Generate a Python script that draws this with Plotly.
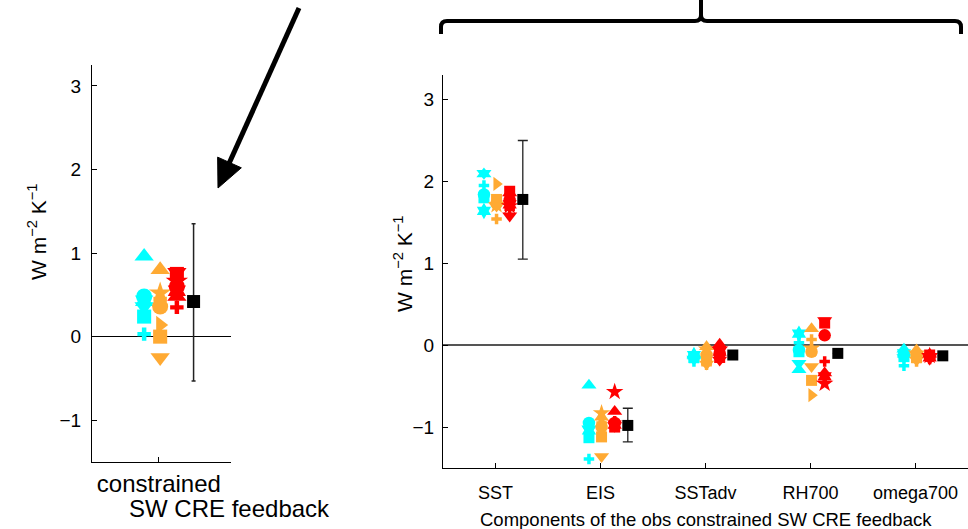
import math
import plotly.graph_objects as go

# ---------------- data ----------------
PANELS = ["constrained", "SST", "EIS", "SSTadv", "RH700", "omega700"]
RIGHT_CATS = ["SST", "EIS", "SSTadv", "RH700", "omega700"]
Y_TICKS = [-1, 0, 1, 2, 3]
Y_TICKTEXT = ["\u22121", "0", "1", "2", "3"]

# values: [constrained, SST, EIS, SSTadv, RH700, omega700]
# cyan group
C_TRIUP = [0.96, 2.09, -0.49, -0.12, -0.30, -0.05]
C_CIRCLE = [0.48, 1.84, -0.95, -0.14, -0.06, -0.12]
C_TRIDN = [0.36, 2.10, -1.02, -0.17, -0.22, -0.15]
C_SQUARE = [0.24, 1.80, -1.13, -0.15, -0.08, -0.14]
C_CROSS = [0.03, 1.95, -1.39, -0.20, 0.03, -0.25]
C_HEXA = [0.43, 1.64, -1.04, -0.12, 0.14, -0.10]
# orange group
O_TRIUP = [0.80, 1.76, -0.88, -0.02, 0.20, -0.06]
O_STAR = [0.52, 1.71, -0.83, -0.05, -0.04, -0.10]
O_CIRCLE = [0.36, 1.73, -1.00, -0.12, -0.08, -0.12]
O_TRIRT = [0.14, 1.97, -0.95, -0.15, -0.61, -0.13]
O_SQUARE = [0.00, 1.78, -1.12, -0.18, -0.43, -0.15]
O_TRIDN = [-0.25, 1.70, -1.36, -0.23, -0.26, -0.18]
O_CROSS = [0.45, 1.54, -0.95, -0.24, 0.07, -0.20]
# red group
R_TRIDN = [0.77, 1.58, -0.98, -0.18, 0.30, -0.15]
R_SQUARE = [0.75, 1.88, -1.00, -0.15, 0.27, -0.12]
R_CIRCLE = [0.60, 1.77, -0.95, -0.10, 0.12, -0.14]
R_TRIUP = [0.48, 1.86, -0.81, 0.01, -0.34, -0.11]
R_CROSS = [0.35, 1.66, -0.93, -0.12, -0.20, -0.17]
R_STAR = [0.66, 1.70, -0.57, -0.05, -0.47, -0.13]
R_HEXA = [0.55, 1.72, -0.97, -0.08, -0.38, -0.15]
# observations (black) with error bar bounds
OBS = [0.42, 1.78, -0.98, -0.12, -0.10, -0.13]
OBS_HI = [1.35, 2.50, -0.77, -0.12, -0.10, -0.13]
OBS_LO = [-0.53, 1.05, -1.18, -0.12, -0.10, -0.13]

CYAN = "#00FFFF"
ORANGE = "#FFAA33"
RED = "#FF0000"

GROUPS = [
    (CYAN, -0.11, [("triangle-up", C_TRIUP), ("circle", C_CIRCLE), ("triangle-down", C_TRIDN),
                   ("square", C_SQUARE), ("cross", C_CROSS), ("hexagram", C_HEXA)]),
    (ORANGE, 0.01, [("triangle-up", O_TRIUP), ("star", O_STAR), ("circle", O_CIRCLE),
                    ("triangle-right", O_TRIRT), ("square", O_SQUARE), ("triangle-down", O_TRIDN),
                    ("cross", O_CROSS)]),
    (RED, 0.135, [("triangle-down", R_TRIDN), ("square", R_SQUARE), ("circle", R_CIRCLE),
                  ("triangle-up", R_TRIUP), ("cross", R_CROSS), ("star", R_STAR), ("hexagram", R_HEXA)]),
]
OBS_OFFSET = 0.26

# ---------------- layout helpers ----------------
W, H = 968, 529
FONT = "Liberation Sans, Arial, Helvetica, sans-serif"


def px(x):
    return x / W


def py(y):
    return 1 - y / H


SIZE_SCALE = {"circle": 1.0, "triangle-up": 1.05, "triangle-down": 1.05, "triangle-right": 1.0,
              "square": 0.88, "cross": 0.7, "hexagram": 1.0, "star": 1.05}

fig = go.Figure()

# left panel (x, y) and right panel (x2, y2)
for color, off, models in GROUPS:
    for sym, vals in models:
        fig.add_trace(go.Scatter(
            x=[1 + off], y=vals[:1], mode="markers", xaxis="x", yaxis="y",
            marker=dict(symbol=sym, color=color, size=16 * SIZE_SCALE[sym], line=dict(width=0)),
            showlegend=False, hoverinfo="y"))
        fig.add_trace(go.Scatter(
            x=[i + 1 + off for i in range(len(RIGHT_CATS))], y=vals[1:], mode="markers",
            xaxis="x2", yaxis="y2",
            marker=dict(symbol=sym, color=color, size=12.5 * SIZE_SCALE[sym], line=dict(width=0)),
            showlegend=False, hoverinfo="y"))

err_plus = [h - v for h, v in zip(OBS_HI, OBS)]
err_minus = [v - l for v, l in zip(OBS, OBS_LO)]

fig.add_trace(go.Scatter(
    x=[1 + OBS_OFFSET], y=OBS[:1], mode="markers", xaxis="x", yaxis="y",
    marker=dict(symbol="square", color="black", size=13),
    error_y=dict(type="data", array=err_plus[:1], arrayminus=err_minus[:1],
                 color="#222222", thickness=1.5, width=2),
    showlegend=False))
fig.add_trace(go.Scatter(
    x=[i + 1 + OBS_OFFSET for i in range(len(RIGHT_CATS))], y=OBS[1:], mode="markers",
    xaxis="x2", yaxis="y2",
    marker=dict(symbol="square", color="black", size=11),
    error_y=dict(type="data", array=err_plus[1:], arrayminus=err_minus[1:],
                 color="#222222", thickness=1.3, width=5),
    showlegend=False))

axis_common = dict(showline=True, linecolor="black", linewidth=1, showgrid=False,
                   ticks="inside", ticklen=5, tickcolor="black", mirror=False)
yfont = dict(family=FONT, size=19, color="black")

fig.update_layout(
    width=W, height=H,
    margin=dict(l=0, r=0, t=0, b=0),
    paper_bgcolor="white", plot_bgcolor="white",
    font=dict(family=FONT, color="black"),
    xaxis=dict(domain=[px(92), px(231)], range=[0.5, 1.54], tickvals=[1],
               ticktext=["constrained"], zeroline=False, ticklabelstandoff=0,
               tickfont=dict(family=FONT, size=24, color="black"), **axis_common),
    yaxis=dict(domain=[py(462), py(65)], range=[-1.5, 3.25], tickvals=Y_TICKS,
               ticktext=Y_TICKTEXT, zeroline=True, zerolinecolor="black", zerolinewidth=1,
               ticklabelstandoff=6, tickfont=yfont, **axis_common),
    xaxis2=dict(domain=[px(443), 1.0], range=[0.5, 5.5], tickvals=[1, 2, 3, 4, 5],
                ticktext=RIGHT_CATS, zeroline=False, ticklabelstandoff=8, anchor="y2",
                tickfont=dict(family=FONT, size=18, color="black"), **axis_common),
    yaxis2=dict(domain=[py(468), py(75)], range=[-1.5, 3.3], tickvals=Y_TICKS,
                ticktext=Y_TICKTEXT, zeroline=True, zerolinecolor="#555555", zerolinewidth=1.5,
                ticklabelstandoff=4, anchor="x2", tickfont=yfont, **axis_common),
)

ytitle = "W m<sup>\u22122</sup> K<sup>\u22121</sup>"
annotations = [
    dict(text=ytitle, x=px(37), y=py(232), xref="paper", yref="paper", showarrow=False,
         textangle=-90, font=dict(family=FONT, size=21), xanchor="center", yanchor="middle"),
    dict(text=ytitle, x=px(403), y=py(264), xref="paper", yref="paper", showarrow=False,
         textangle=-90, font=dict(family=FONT, size=21), xanchor="center", yanchor="middle"),
    dict(text="SW CRE feedback", x=px(229), y=py(508), xref="paper", yref="paper",
         showarrow=False, font=dict(family=FONT, size=24), xanchor="center", yanchor="middle"),
    dict(text="Components of the obs constrained SW CRE feedback", x=px(706), y=py(519),
         xref="paper", yref="paper", showarrow=False, font=dict(family=FONT, size=18.5),
         xanchor="center", yanchor="middle"),
]
fig.update_layout(annotations=annotations)

# arrow (tail -> tip), drawn as shapes
tail = (299.0, 8.0)
tip = (218.0, 188.0)
dx, dy = tip[0] - tail[0], tip[1] - tail[1]
L = math.hypot(dx, dy)
ux, uy = dx / L, dy / L
nx, ny = -uy, ux
head_len, head_half = 28.0, 13.0
base = (tip[0] - head_len * ux, tip[1] - head_len * uy)
c1 = (base[0] + head_half * nx, base[1] + head_half * ny)
c2 = (base[0] - head_half * nx, base[1] - head_half * ny)


def P(pt):
    return f"{px(pt[0]):.5f},{py(pt[1]):.5f}"


shapes = [
    dict(type="line", xref="paper", yref="paper", x0=px(tail[0]), y0=py(tail[1]),
         x1=px(base[0] + 2 * ux), y1=py(base[1] + 2 * uy), line=dict(color="black", width=5)),
    dict(type="path", xref="paper", yref="paper",
         path=f"M{P(tip)} L{P(c1)} L{P(c2)} Z", fillcolor="black", line=dict(color="black", width=1)),
]

# curly bracket over right panel
bx0, bx1, bxm = 441.0, 961.0, 701.0
by_top, by_end, rad = 21.0, 34.0, 6.0
bracket = (
    f"M{P((bx0, by_end))} L{P((bx0, by_top + rad))} Q{P((bx0, by_top))} {P((bx0 + rad, by_top))} "
    f"L{P((bxm - rad, by_top))} Q{P((bxm, by_top))} {P((bxm, by_top - rad))} L{P((bxm, 0))} "
    f"M{P((bxm, by_top - rad))} Q{P((bxm, by_top))} {P((bxm + rad, by_top))} "
    f"L{P((bx1 - rad, by_top))} Q{P((bx1, by_top))} {P((bx1, by_top + rad))} L{P((bx1, by_end))}"
)
shapes.append(dict(type="path", xref="paper", yref="paper", path=bracket,
                   line=dict(color="black", width=4)))
fig.update_layout(shapes=shapes)

fig.write_html("out.html", config={"displayModeBar": False},
               post_script="document.body.style.margin='0';document.body.style.overflow='hidden';")
